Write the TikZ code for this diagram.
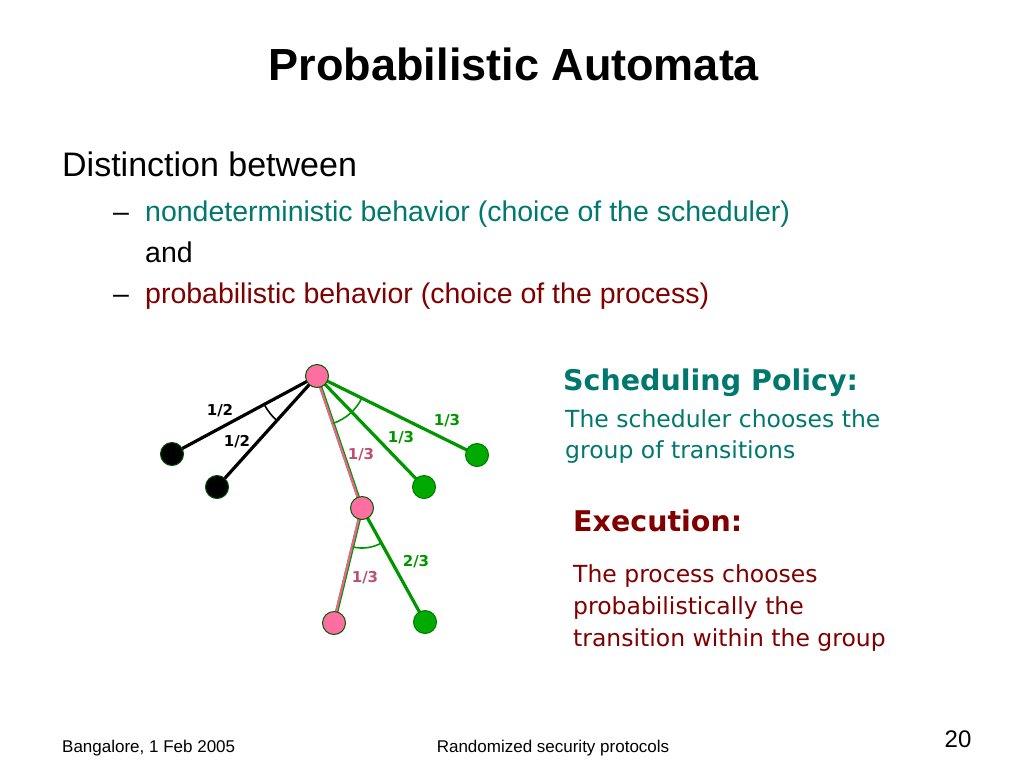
\documentclass[tikz,border=0pt]{standalone}
\usepackage{fontspec}
\setmainfont{Liberation Sans}
\newfontfamily\comic{DejaVu Sans}
\usetikzlibrary{angles}
\definecolor{teal}{RGB}{0,120,110}
\definecolor{darkred}{RGB}{128,0,0}
\definecolor{nodegreen}{RGB}{0,170,0}
\definecolor{linegreen}{RGB}{0,150,0}
\definecolor{pinkfill}{RGB}{255,110,160}
\definecolor{pinkline}{RGB}{235,100,140}

\begin{document}
\begin{tikzpicture}[x=1pt,y=-1pt,
        state/.style={circle,minimum size=23pt,inner sep=0pt,line width=1pt},
        black state/.style={state,fill=black,draw=black!70!green},
        green state/.style={state,fill=nodegreen,draw=linegreen!80!black},
        pink state/.style={state,fill=pinkfill,draw=linegreen!60!black},
        prob/.style={font=\comic\bfseries\fontsize{15}{15}\selectfont,inner sep=1pt},
        txt/.style={inner sep=0pt,anchor=base west}]
    \useasboundingbox (0,0) rectangle (1024,768);

    % slide text
    \node(title) at (514,81) [inner sep=0pt,anchor=base,font=\bfseries\fontsize{45}{45}\selectfont] {Probabilistic Automata};
    \node(intro) at (62,176) [txt,font=\fontsize{34}{34}\selectfont] {Distinction between};
    \node(dash1) at (113,221) [txt,font=\fontsize{28.5}{28.5}\selectfont] {--};
    \node(nondet) at (145,221) [txt,text=teal,font=\fontsize{28.5}{28.5}\selectfont] {nondeterministic behavior (choice of the scheduler)};
    \node(and) at (145,262) [txt,font=\fontsize{28.5}{28.5}\selectfont] {and};
    \node(dash2) at (113,303) [txt,font=\fontsize{28.5}{28.5}\selectfont] {--};
    \node(prob) at (145,303) [txt,text=darkred,font=\fontsize{28.5}{28.5}\selectfont] {probabilistic behavior (choice of the process)};

    % the base of a text in lines is that of its last line
    \node(sched) at (563,390) [txt,text=teal,font=\comic\bfseries\fontsize{28.5}{28.5}\selectfont] {Scheduling Policy:};
    \node(schedtext) at (565,458) [txt,text=teal,align=left,font=\comic\fontsize{23.5}{31}\selectfont] {The scheduler chooses the\\group of transitions};
    \node(exec) at (573,531) [txt,text=darkred,font=\comic\bfseries\fontsize{28.5}{28.5}\selectfont] {Execution:};
    \node(exectext) at (573,646) [txt,text=darkred,align=left,font=\comic\fontsize{23.5}{32}\selectfont] {The process chooses\\probabilistically the\\transition within the group};

    % footer
    \node(place) at (62,752) [txt,font=\fontsize{17}{17}\selectfont] {Bangalore, 1 Feb 2005};
    \node(topic) at (553,752) [inner sep=0pt,anchor=base,font=\fontsize{17}{17}\selectfont] {Randomized security protocols};
    \node(page) at (958,747) [inner sep=0pt,anchor=base,font=\fontsize{24}{24}\selectfont] {20};

    % automaton
    \coordinate(rootc) at (317,376);
    \coordinate(midc) at (362,508);
    \coordinate(bl1c) at (172,454);
    \coordinate(bl2c) at (217,487);
    \coordinate(gl1c) at (477,455);
    \coordinate(gl2c) at (424,487);
    \coordinate(pbc) at (334,623);
    \coordinate(gbc) at (425,622);

    \draw [line width=3.2pt] (rootc) -- (bl1c);
    \draw [line width=3.2pt] (rootc) -- (bl2c);
    \draw [linegreen,line width=3.2pt] (rootc) -- (gl1c);
    \draw [linegreen,line width=3.2pt] (rootc) -- (gl2c);
    \draw [linegreen,line width=3.4pt] (rootc) -- (midc);
    \draw [pinkline,line width=2.2pt] ([xshift=-0.6pt]rootc) -- ([xshift=-0.6pt]midc);
    \draw [linegreen,line width=3.2pt] (midc) -- (gbc);
    \draw [linegreen,line width=3.4pt] (midc) -- (pbc);
    \draw [pinkline,line width=2.2pt] ([xshift=-0.6pt]midc) -- ([xshift=-0.6pt]pbc);

    \pic [draw,line width=1.6pt,angle radius=60pt] {angle=bl1c--rootc--bl2c};
    \pic [draw=linegreen,line width=1.6pt,angle radius=50pt] {angle=midc--rootc--gl1c};
    \pic [draw=linegreen,line width=1.6pt,angle radius=40pt] {angle=pbc--midc--gbc};

    \node(root) at (rootc) [pink state] {};
    \node(mid) at (midc) [pink state] {};
    \node(pb) at (pbc) [pink state] {};
    \node(bl1) at (bl1c) [black state] {};
    \node(bl2) at (bl2c) [black state] {};
    \node(gl1) at (gl1c) [green state] {};
    \node(gl2) at (gl2c) [green state] {};
    \node(gb) at (gbc) [green state] {};

    \node(p1) at (220,411) [prob] {1/2};
    \node(p2) at (237,442) [prob] {1/2};
    \node(p3) at (447,421) [prob,text=linegreen] {1/3};
    \node(p4) at (401,438) [prob,text=linegreen] {1/3};
    \node(p5) at (361,455) [prob,text=pinkline!80!black] {1/3};
    \node(p6) at (416,562) [prob,text=linegreen] {2/3};
    \node(p7) at (365,578) [prob,text=pinkline!80!black] {1/3};
\end{tikzpicture}
\end{document}
